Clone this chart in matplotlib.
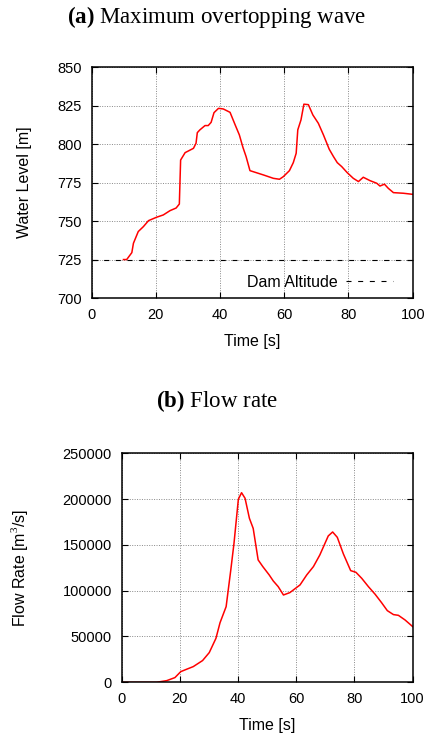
import matplotlib
matplotlib.use("Agg")
import matplotlib.pyplot as plt

# values
# (a) water level
t_level = [9.9, 10.9, 12.5, 13.0, 14.5, 16.1, 17.7, 20.2, 22.3, 24.4, 26.3, 27.3,
           27.7, 29.1, 31.7, 32.5, 32.9, 33.7, 35.3, 36.3, 37.2, 38.1, 39.5, 41.0,
           43.1, 44.7, 46.0, 47.1, 48.1, 49.3, 53.5, 56.6, 58.5, 59.7, 61.6, 62.8,
           63.7, 64.2, 65.2, 66.1, 67.5, 68.9, 70.6, 72.2, 74.0, 75.3, 76.5, 77.9,
           79.6, 81.5, 83.1, 84.6, 86.7, 88.8, 89.8, 91.2, 92.4, 94.0, 97.1, 100.0]
level = [725.0, 725.0, 729.5, 735.6, 743.2, 746.4, 750.3, 752.5, 754.0, 756.8, 758.5, 761.1,
         789.7, 794.5, 797.3, 800.6, 807.5, 809.3, 812.1, 812.1, 814.2, 820.5, 823.3, 822.9,
         820.7, 812.5, 806.0, 798.0, 791.9, 782.8, 780.0, 777.8, 777.2, 778.9, 782.8, 788.0,
         794.1, 809.3, 815.8, 826.0, 825.7, 819.0, 813.6, 806.0, 796.7, 792.0, 788.0, 785.4,
         781.5, 777.8, 775.7, 778.5, 776.3, 774.6, 772.8, 774.0, 771.3, 768.5, 768.1, 767.4]
dam_altitude = 725

# (b) flow rate
t_flow = [0, 12.0, 15.5, 18.3, 20.3, 22.3, 24.6, 27.8, 30.1, 32.4, 33.8, 35.9, 37.5,
          38.6, 40.1, 41.2, 42.4, 43.9, 45.2, 46.9, 48.5, 50.7, 52.1, 53.8, 55.6, 57.8,
          61.3, 63.6, 65.9, 68.1, 71.0, 72.5, 74.1, 76.2, 78.7, 80.5, 82.5, 84.8, 87.1,
          89.3, 91.3, 93.4, 95.1, 97.4, 100.0]
flow = [0, 0, 1800, 5100, 11600, 14200, 17100, 23700, 32400, 48000, 65000, 82600, 122600,
        151700, 199800, 207000, 200900, 179000, 168000, 133600, 126300, 117200, 110600,
        104400, 95300, 97900, 106300, 117200, 126300, 139000, 159800, 164100, 158300,
        140100, 121900, 120100, 113500, 104400, 96100, 87000, 78200, 73900, 73100, 68000,
        60800]

plt.rcParams['font.family'] = ['Liberation Sans', 'DejaVu Sans']
plt.rcParams['mathtext.fontset'] = 'custom'
plt.rcParams['mathtext.rm'] = 'Liberation Serif'
plt.rcParams['mathtext.bf'] = 'Liberation Serif:bold'

fig = plt.figure(figsize=(4.33, 7.36), dpi=100)

def style(ax, ylab_x):
    ax.set_xlim(0, 100)
    ax.set_xticks([0, 20, 40, 60, 80, 100])
    ax.grid(True, linestyle=(0, (1, 1.5)), color='#888888', linewidth=0.7)
    ax.tick_params(direction='in', top=True, right=True, length=4, width=0.8,
                   labelsize=10.5, pad=7)
    for s in ax.spines.values():
        s.set_linewidth(1.1)
    ax.set_xlabel('Time [s]', fontsize=11.5)
    ax.xaxis.set_label_coords(0.5, -0.155)
    ax.yaxis.set_label_coords(ylab_x, 0.5)

ax1 = fig.add_axes([0.2118, 0.5951, 0.7413, 0.3135])
ax1.plot(t_level, level, color='red', linewidth=1.1)
ax1.axhline(dam_altitude, color='black', linestyle=(0, (4.5, 6)), linewidth=0.8,
            label='Dam Altitude')
ax1.set_ylim(700, 850)
ax1.set_yticks([700, 725, 750, 775, 800, 825, 850])
ax1.set_ylabel('Water Level [m]', fontsize=11.5)
style(ax1, -0.186)
ax1.legend(loc='lower right', bbox_to_anchor=(0.965, 0.0), frameon=False,
           markerfirst=False, handlelength=3.0, fontsize=11.5, borderaxespad=0.1,
           handletextpad=0.5)

ax2 = fig.add_axes([0.281, 0.0730, 0.672, 0.3111])
ax2.plot(t_flow, flow, color='red', linewidth=1.1)
ax2.set_ylim(0, 250000)
ax2.set_yticks([0, 50000, 100000, 150000, 200000, 250000])
ax2.set_ylabel('Flow Rate [m$^3$/s]', fontsize=11.5)
style(ax2, -0.315)

serif = ['Liberation Serif', 'DejaVu Serif']
fig.text(0.5, 0.977, r'$\mathbf{(a)}$ Maximum overtopping wave', ha='center', va='center',
         fontsize=16.5, family=serif)
fig.text(0.5, 0.455, r'$\mathbf{(b)}$ Flow rate', ha='center', va='center',
         fontsize=16.5, family=serif)

plt.savefig('out.png', dpi=100)
